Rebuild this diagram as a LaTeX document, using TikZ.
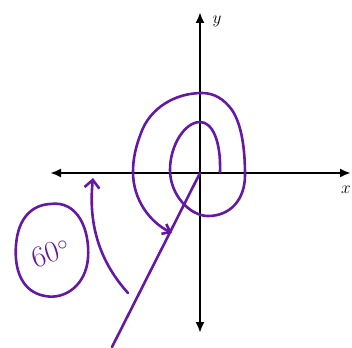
\documentclass[tikz,border=0pt]{standalone}
\usetikzlibrary{arrows.meta}
\definecolor{pen}{RGB}{100,25,165}
\begin{document}
\begin{tikzpicture}[x=1pt,y=-1pt,
  axis/.style={line width=2.2pt,black,{Latex[length=11pt,width=9pt]}-{Latex[length=11pt,width=9pt]}},
  ink/.style={line width=2.6pt,pen,line cap=round,line join=round},
  lbl/.style={font=\fontsize{17}{17}\selectfont,inner sep=0pt}]
\useasboundingbox (0,0) rectangle (352,347);
\coordinate (O) at (200,173);
\coordinate (xl) at (50,173);
\coordinate (xr) at (351,173);
\coordinate (yt) at (200,12);
\coordinate (yb) at (200,333);
\draw[axis] (xl) -- (xr);
\draw[axis] (yb) -- (yt);
\node[lbl] (xlab) at (346,190) {$x$};
\node[lbl] (ylab) at (217,21) {$y$};
% ray
\coordinate (rayend) at (112,347);
\draw[ink] (O) -- (rayend);
% spiral
\coordinate (s0) at (220,172);
\coordinate (s6) at (172,233);
\draw[ink,-{Straight Barb[length=7pt,width=11pt]}] (s0)
  .. controls (221,140) and (212,122) .. (200,122)
  .. controls (185,122) and (170,145) .. (170,170)
  .. controls (170,195) and (190,216) .. (208,216)
  .. controls (230,216) and (245,200) .. (245,175)
  .. controls (245,150) and (242,125) .. (232,110)
  .. controls (224,99) and (214,93) .. (202,93)
  .. controls (175,93) and (150,108) .. (141,133)
  .. controls (136,146) and (133,158) .. (133,172)
  .. controls (133,200) and (150,222) .. (s6);
% angle arrow
\coordinate (a0) at (128,293);
\coordinate (a1) at (93,178);
\draw[ink,-{Straight Barb[length=8pt,width=15pt]}] (a0) .. controls (100,262) and (88,225) .. (a1);
% label
\draw[ink] (50,204) .. controls (78,200) and (90,230) .. (88,258)
  .. controls (86,285) and (65,300) .. (45,296)
  .. controls (22,292) and (14,270) .. (16,245)
  .. controls (18,218) and (32,205) .. (50,204);
\node[pen,rotate=18,font=\fontsize{30}{30}\selectfont,inner sep=0pt] (ang) at (51,253) {60$^{\circ}$};
\end{tikzpicture}
\end{document}
